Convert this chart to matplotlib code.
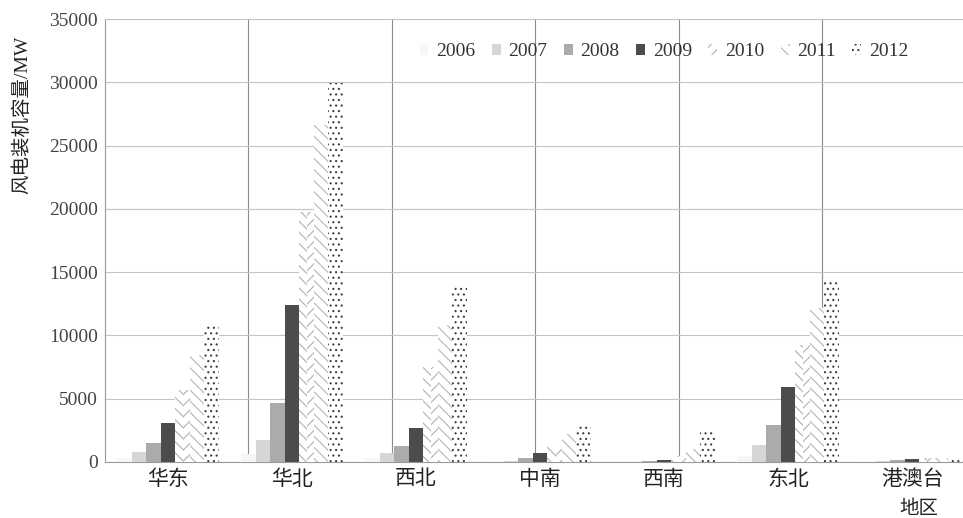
import numpy as np
import matplotlib
matplotlib.use("Agg")
import matplotlib.pyplot as plt

plt.rcParams['font.family'] = ['Liberation Serif', 'Noto Sans CJK SC']
plt.rcParams['hatch.linewidth'] = 0.8

regions = ['华东', '华北', '西北', '中南', '西南', '东北', '港澳台']
years = ['2006', '2007', '2008', '2009', '2010', '2011', '2012']

# installed wind capacity (MW) per region, one list per year
cap_2006 = [300, 600, 300, 50, 0, 500, 50]
cap_2007 = [790, 1740, 710, 100, 20, 1340, 100]
cap_2008 = [1500, 4660, 1260, 350, 80, 2920, 150]
cap_2009 = [3080, 12400, 2690, 700, 150, 5930, 250]
cap_2010 = [5690, 19760, 7510, 1300, 500, 9250, 300]
cap_2011 = [8460, 26640, 10830, 2200, 1000, 12170, 300]
cap_2012 = [10830, 29960, 13990, 2900, 2400, 14390, 350]

series = [cap_2006, cap_2007, cap_2008, cap_2009, cap_2010, cap_2011, cap_2012]

fig = plt.figure(figsize=(9.63, 5.18), dpi=100)
ax = fig.add_axes([105 / 963, 1 - 462 / 518, 858 / 963, 443 / 518])

x = np.arange(len(regions))
w = 0.117
offsets = (np.arange(7) - 3) * w

handles = []
# plain grey fills for the first four years
fills = ['#f6f6f6', '#d6d6d6', '#ababab', '#4c4c4c']
for i in range(4):
    b = ax.bar(x + offsets[i], series[i], w, color=fills[i], linewidth=0,
               zorder=3)
    handles.append(b)

# 2010: chevron pattern made from two half-width hatched bars
ax.bar(x + offsets[4] - w / 4, cap_2010, w / 2, facecolor='white',
       edgecolor='#b0b0b0', hatch='\\\\\\', linewidth=0, zorder=3)
b10 = ax.bar(x + offsets[4] + w / 4, cap_2010, w / 2, facecolor='white',
             edgecolor='#b0b0b0', hatch='///', linewidth=0, zorder=3)
handles.append(b10)

# 2011: diagonal lines
b11 = ax.bar(x + offsets[5], cap_2011, w, facecolor='white',
             edgecolor='#b5b5b5', hatch='\\\\\\', linewidth=0, zorder=3)
handles.append(b11)

# 2012: dots
b12 = ax.bar(x + offsets[6], cap_2012, w, facecolor='white',
             edgecolor='#404040', hatch='...', linewidth=0, zorder=3)
handles.append(b12)

ax.set_xlim(-0.508, 6.41)
ax.set_ylim(0, 35000)
ax.set_yticks(np.arange(0, 35001, 5000))
ax.set_xticks(x)
ax.set_xticklabels(regions, fontsize=15, color='#222222')
ax.tick_params(axis='x', length=0, pad=6)
ax.tick_params(axis='y', length=0, pad=5, labelsize=14, labelcolor='#444444')

# horizontal grid on the y ticks, vertical rules on a fixed spacing
ax.grid(axis='y', color='#c4c4c4', linewidth=0.8, zorder=0)
step = 1.157
for k in range(1, 6):
    ax.axvline(-0.508 + k * step, color='#8a8a8a', linewidth=0.8, zorder=1)

for side in ['left', 'bottom', 'top']:
    ax.spines[side].set_color('#999999')
    ax.spines[side].set_linewidth(0.8)
ax.spines['top'].set_color('#c4c4c4')
ax.spines['right'].set_visible(False)

ax.set_ylabel('风电装机容量/MW', fontsize=14, color='#222222')
ax.yaxis.set_label_coords(-0.086, 0.783)

fig.text(919 / 963, 1 - 509 / 518, '地区', fontsize=14, color='#222222',
         ha='center', va='center')

ax.legend(handles, years, loc='center left',
          bbox_to_anchor=(410 / 963, 1 - 52 / 518),
          bbox_transform=fig.transFigure, ncol=7, frameon=False,
          fontsize=14, handlelength=0.45, handleheight=0.45,
          handletextpad=0.4, columnspacing=0.85, borderpad=0,
          labelcolor='#333333')

fig.savefig('out.png', dpi=100)
